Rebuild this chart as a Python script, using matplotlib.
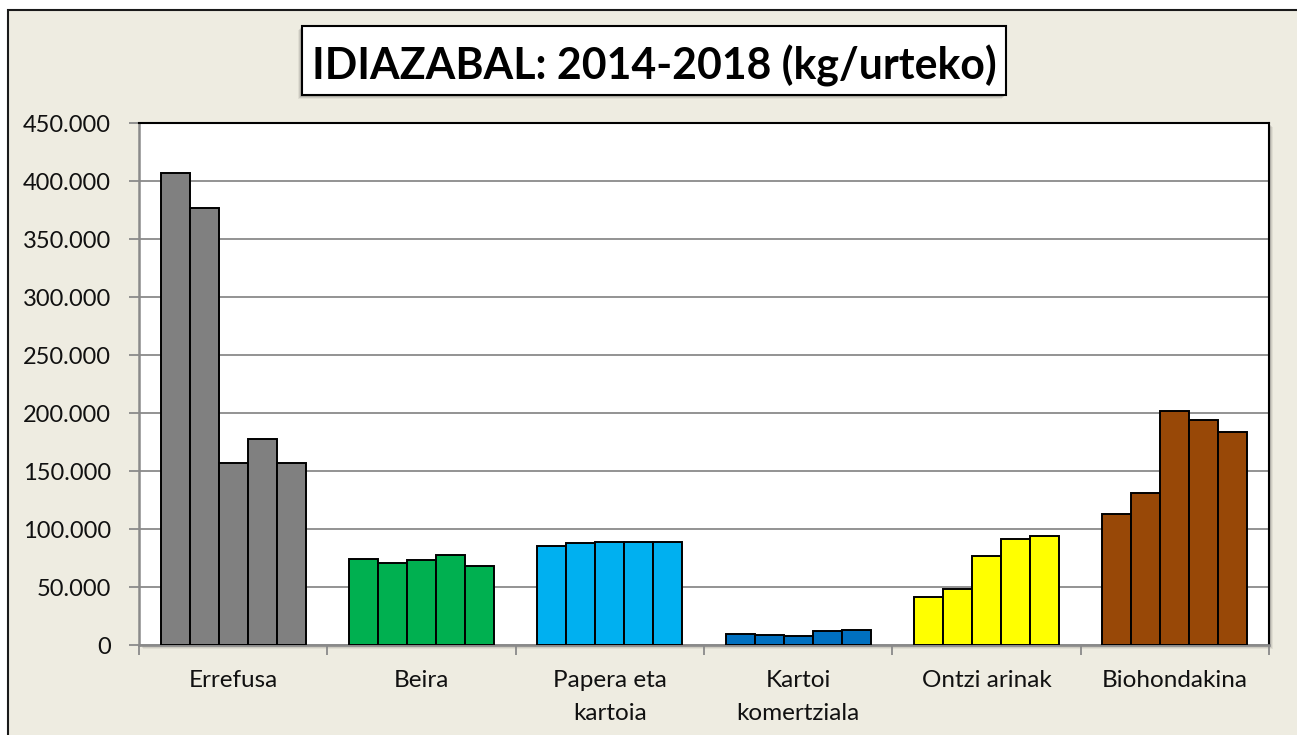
import matplotlib
matplotlib.use("Agg")
import matplotlib.pyplot as plt
from matplotlib.patches import Rectangle
from matplotlib.ticker import FuncFormatter, FixedLocator
import numpy as np

categories = ["Errefusa", "Beira", "Papera eta\nkartoia", "Kartoi\nkomertziala", "Ontzi arinak", "Biohondakina"]
years = ["2014", "2015", "2016", "2017", "2018"]
values = {
    "Errefusa":              [406500, 376500, 156500, 178000, 156500],
    "Beira":                 [74000, 70500, 73500, 77500, 68500],
    "Papera eta\nkartoia":   [85500, 88000, 88500, 88500, 88500],
    "Kartoi\nkomertziala":   [9200, 8400, 7600, 12100, 12700],
    "Ontzi arinak":          [41500, 48500, 77000, 91000, 94000],
    "Biohondakina":          [113000, 131000, 201500, 194000, 183500],
}
colors = ["#808080", "#00B050", "#00B0F0", "#0070C0", "#FFFF00", "#984807"]
title = "IDIAZABAL: 2014-2018 (kg/urteko)"
yticks = list(range(0, 450001, 50000))

W, H = 1297, 735
fig = plt.figure(figsize=(W / 100, H / 100), dpi=100)
fig.patch.set_facecolor("white")
plt.rcParams['font.family'] = ['Lato', 'DejaVu Sans']

# outer frame
frame = Rectangle((8 / W, -0.05), 1.2, (735 - 10) / H + 0.05, transform=fig.transFigure,
                  facecolor="#EEECE1", edgecolor="#1a1a1a", linewidth=1.5, zorder=0)
fig.patches.append(frame)

l, r, t, b = 139, 1269, 123, 645
ax_pos = [l / W, 1 - b / H, (r - l) / W, (b - t) / H]

# plot area shadow
for i, a in enumerate([0.10, 0.08, 0.06]):
    off = (i + 2)
    sh = Rectangle(((l + off) / W, 1 - (b + off) / H), (r - l) / W, (b - t) / H,
                   transform=fig.transFigure, facecolor="#000000", alpha=a,
                   edgecolor="none", zorder=1)
    fig.patches.append(sh)

ax = fig.add_axes(ax_pos, zorder=2)
ax.set_facecolor("white")

n = len(years)
w = 1 / (n + 1.5)
for i, cat in enumerate(categories):
    xs = i + (np.arange(n) - (n - 1) / 2) * w
    ax.bar(xs, values[cat], width=w, color=colors[i], edgecolor="black",
           linewidth=1.4, zorder=3)

ax.set_xlim(-0.5, len(categories) - 0.5)
ax.set_ylim(0, 450000)
ax.set_yticks(yticks)
ax.yaxis.set_major_formatter(FuncFormatter(lambda v, p: f"{int(v):,}".replace(",", ".")))
ax.grid(axis="y", color="#8a8a8a", linewidth=1.3, zorder=1)
ax.set_axisbelow(True)

# x ticks: boundaries as major (no labels), centers as minor with labels
ax.xaxis.set_major_locator(FixedLocator(np.arange(-0.5, len(categories), 1.0)))
ax.xaxis.set_major_formatter(FuncFormatter(lambda v, p: ""))
ax.xaxis.set_minor_locator(FixedLocator(np.arange(len(categories))))
ax.set_xticklabels(categories, minor=True)
ax.tick_params(axis="x", which="major", length=7, width=1.3, color="#8a8a8a", direction="out")
ax.tick_params(axis="x", which="minor", length=0, pad=18, labelsize=17.5)
ax.tick_params(axis="y", length=7, width=1.3, color="#8a8a8a", direction="out", pad=13, labelsize=17)
for lab in ax.get_xticklabels(minor=True):
    lab.set_linespacing(1.7)
    lab.set_color("#111111")
for lab in ax.get_yticklabels():
    lab.set_color("#111111")

for s in ["top", "right"]:
    ax.spines[s].set_color("black")
    ax.spines[s].set_linewidth(1.5)
for s in ["left", "bottom"]:
    ax.spines[s].set_color("#8a8a8a")
    ax.spines[s].set_linewidth(1.8)

# title box
tx0, tx1, ty0, ty1 = 302, 1006, 26, 95
for i, a in enumerate([0.12, 0.09, 0.06]):
    off = i + 2
    sh = Rectangle(((tx0 - off) / W, 1 - (ty1 + off) / H), (tx1 - tx0) / W, (ty1 - ty0) / H,
                   transform=fig.transFigure, facecolor="black", alpha=a, edgecolor="none", zorder=3)
    fig.patches.append(sh)
tb = Rectangle((tx0 / W, 1 - ty1 / H), (tx1 - tx0) / W, (ty1 - ty0) / H,
               transform=fig.transFigure, facecolor="white", edgecolor="black", linewidth=1.5, zorder=4)
fig.patches.append(tb)
fig.text((tx0 + tx1) / 2 / W, 1 - (ty0 + ty1 + 4) / 2 / H, title, ha="center", va="center_baseline",
         fontsize=30.8, fontweight="bold", color="black", zorder=5)

fig.savefig("out.png", dpi=100, facecolor=fig.get_facecolor())
